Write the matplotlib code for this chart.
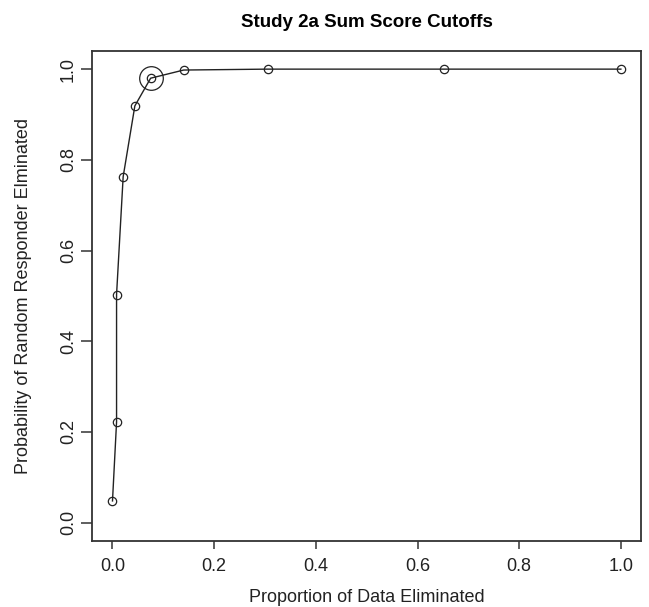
import matplotlib
matplotlib.use("Agg")
import matplotlib.pyplot as plt

# proportion of data eliminated vs probability random responder eliminated
prop_eliminated = [0.0, 0.008, 0.008, 0.021, 0.044, 0.075, 0.140, 0.305, 0.652, 1.0]
prob_rr_eliminated = [0.048, 0.222, 0.503, 0.763, 0.919, 0.980, 0.998, 1.0, 1.0, 1.0]
chosen_idx = 5  # highlighted cutoff

x_ticks = [0.0, 0.2, 0.4, 0.6, 0.8, 1.0]
y_ticks = [0.0, 0.2, 0.4, 0.6, 0.8, 1.0]

plt.rcParams["font.family"] = ["Liberation Sans", "DejaVu Sans"]

fig = plt.figure(figsize=(6.49, 6.07), dpi=100)
ax = fig.add_axes([0.142, 0.109, 0.846, 0.807])

ax.plot(prop_eliminated, prob_rr_eliminated, color="#222222", lw=1.0,
        marker="o", markersize=6, markerfacecolor="none",
        markeredgecolor="#222222", markeredgewidth=0.9)
ax.plot(prop_eliminated[chosen_idx], prob_rr_eliminated[chosen_idx], marker="o",
        markersize=17, markerfacecolor="none", markeredgecolor="#222222",
        markeredgewidth=0.9, linestyle="none")

ax.set_xlim(-0.04, 1.04)
ax.set_ylim(-0.04, 1.04)
ax.set_xticks(x_ticks)
ax.set_yticks(y_ticks)
ax.set_xticklabels([f"{t:.1f}" for t in x_ticks])
ax.set_yticklabels([f"{t:.1f}" for t in y_ticks], rotation=90, va="center")
ax.tick_params(axis="both", direction="out", width=1.1,
               labelsize=13, color="#333333", labelcolor="#222222")
ax.tick_params(axis="x", length=6, pad=6)
ax.tick_params(axis="y", length=8, pad=3)
for s in ax.spines.values():
    s.set_linewidth(1.3)
    s.set_color("#333333")

ax.set_xlabel("Proportion of Data Eliminated", fontsize=13, color="#222222", labelpad=10.5)
ax.set_ylabel("Probability of Random Responder Elminated", fontsize=13,
              color="#222222", labelpad=20)
ax.set_title("Study 2a Sum Score Cutoffs", fontsize=13.5, fontweight="bold", pad=17)

fig.savefig("out.png", dpi=100)
